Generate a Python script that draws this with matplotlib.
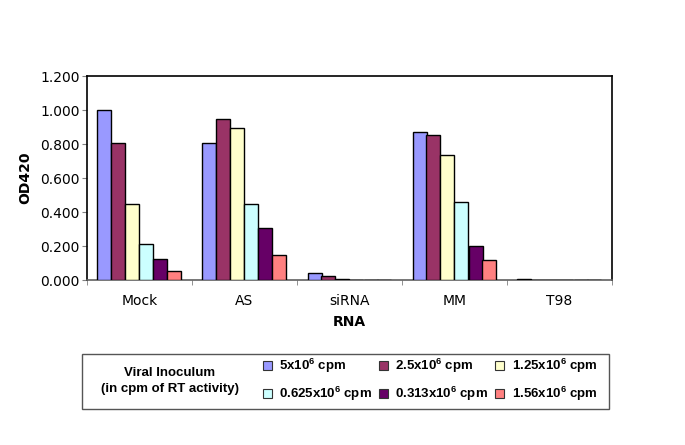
import matplotlib
matplotlib.use("Agg")
import matplotlib.pyplot as plt
import numpy as np
from matplotlib.patches import Rectangle, Patch
from matplotlib.ticker import FixedLocator

plt.rcParams['mathtext.fontset'] = 'custom'
plt.rcParams['mathtext.rm'] = 'Liberation Sans:bold'
plt.rcParams['mathtext.it'] = 'Liberation Sans:bold'
plt.rcParams['mathtext.bf'] = 'Liberation Sans:bold'

categories = ["Mock", "AS", "siRNA", "MM", "T98"]
series_labels = ["5x10$^6$ cpm", "2.5x10$^6$ cpm", "1.25x10$^6$ cpm",
                 "0.625x10$^6$ cpm", "0.313x10$^6$ cpm", "1.56x10$^6$ cpm"]
s_5 = [1.000, 0.808, 0.041, 0.871, 0.008]
s_2_5 = [0.808, 0.947, 0.024, 0.855, 0.0]
s_1_25 = [0.447, 0.892, 0.005, 0.733, 0.0]
s_0_625 = [0.210, 0.447, 0.0, 0.461, 0.0]
s_0_313 = [0.124, 0.308, 0.0, 0.198, 0.0]
s_1_56 = [0.053, 0.147, 0.0, 0.116, 0.0]
series = [s_5, s_2_5, s_1_25, s_0_625, s_0_313, s_1_56]
colors = ["#9999FF", "#993366", "#FFFFCC", "#CCFFFF", "#660066", "#FF8080"]
yticks = [0.0, 0.2, 0.4, 0.6, 0.8, 1.0, 1.2]

fig = plt.figure(figsize=(6.85, 4.45), dpi=100)
ax = fig.add_axes([87/685, 1-280/445, (612-87)/685, (280-76)/445])

x = np.arange(len(categories))
n = len(series)
w = 0.8 / n
for i, (vals, c) in enumerate(zip(series, colors)):
    ax.bar(x - 0.4 + w * (i + 0.5), vals, width=w, color=c, edgecolor="black",
           linewidth=1.0, zorder=3)

ax.set_xlim(-0.5, len(categories) - 0.5)
ax.set_ylim(0, 1.2)
ax.set_yticks(yticks)
ax.set_yticklabels([f"{v:.3f}" for v in yticks], fontsize=10, family="DejaVu Sans")
ax.set_xticks(x)
ax.set_xticklabels(categories, fontsize=10, family="DejaVu Sans")
ax.tick_params(axis='x', which='major', length=0, pad=10)
ax.xaxis.set_minor_locator(FixedLocator(np.arange(-0.5, len(categories), 1.0)))
ax.tick_params(axis='x', which='minor', length=3.6, color="#808080", direction='out')
ax.tick_params(axis='y', length=3.6, color="#808080", direction='out', pad=1.5)
for s in ax.spines.values():
    s.set_color("black")
    s.set_linewidth(1.2)
ax.spines['bottom'].set_color("#606060")

ax.set_ylabel("OD420", fontsize=10, fontweight="bold", family="DejaVu Sans", labelpad=6)
ax.set_xlabel("RNA", fontsize=10, fontweight="bold", family="DejaVu Sans", labelpad=5)

# legend box
fig.patches.append(Rectangle((82/685, 1-409/445), (609-82)/685, (409-354)/445,
                             transform=fig.transFigure, facecolor="white",
                             edgecolor="#555555", linewidth=1.0))
fig.text(170/685, 1-381/445, "Viral Inoculum\n(in cpm of RT activity)",
         ha="center", va="center", fontsize=9.5, fontweight="bold",
         family="Liberation Sans", linespacing=1.45)

handles = [Patch(facecolor=c, edgecolor="#333333", linewidth=0.8) for c in colors]
order = [0, 3, 1, 4, 2, 5]
leg = fig.legend([handles[i] for i in order], [series_labels[i] for i in order],
                 ncol=3, loc="center left", bbox_to_anchor=(263/685, 1-380/445),
                 frameon=False, prop={"family": "Liberation Sans", "weight": "bold", "size": 9.5},
                 handlelength=0.65, handleheight=0.65, handletextpad=0.6,
                 columnspacing=0.5, labelspacing=0.72, borderpad=0, borderaxespad=0)

fig.savefig("out.png", dpi=100)
